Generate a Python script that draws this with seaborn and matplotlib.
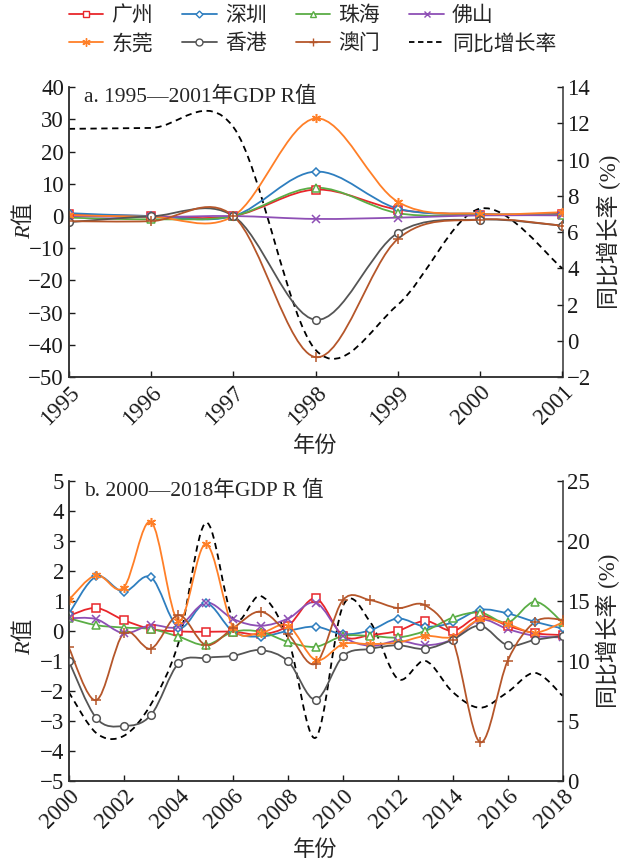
import numpy as np
import matplotlib
matplotlib.use('Agg')
import matplotlib.pyplot as plt
from matplotlib.path import Path
from matplotlib.patches import PathPatch
from matplotlib.lines import Line2D
import seaborn as sns

# ---- panel a: 1995-2001 ----
years_a = [1995, 1996, 1997, 1998, 1999, 2000, 2001]
guangzhou_a = [0.5, 0.0, 0.0, 8.2, 2.0, 0.4, 0.7]
shenzhen_a = [0.9, 0.0, 0.0, 13.8, 2.3, 0.7, 0.5]
zhuhai_a = [-0.5, -1.0, 0.0, 8.8, 0.9, 0.3, 0.4]
foshan_a = [0.0, -0.3, 0.0, -0.9, -0.5, 0.2, 0.2]
dongguan_a = [0.3, -0.2, 0.0, 30.3, 4.4, 0.7, 1.2]
hongkong_a = [-1.9, -0.1, 0.0, -32.2, -5.2, -1.1, -3.0]
macau_a = [-1.6, -1.6, 0.0, -43.8, -7.1, -1.1, -3.0]
growth_a = [11.7, 11.75, 11.8, -0.5, 2.0, 7.3, 4.0]

# ---- panel b: 2000-2018 ----
years_b = list(range(2000, 2019))
guangzhou_b = [0.50, 0.76, 0.36, 0.06, -0.02, -0.03, -0.03, -0.12, 0.17, 1.08,
               -0.17, -0.14, 0.00, 0.33, 0.00, 0.50, 0.17, -0.08, -0.14]
shenzhen_b = [0.56, 1.81, 1.30, 1.78, 0.11, 0.92, -0.03, -0.19, 0.00, 0.14,
              -0.11, 0.02, 0.41, 0.14, 0.28, 0.70, 0.58, 0.30, 0.08]
zhuhai_b = [0.42, 0.19, 0.11, 0.06, -0.19, -0.47, -0.03, -0.03, -0.37, -0.53,
            -0.17, -0.17, -0.22, 0.00, 0.44, 0.61, 0.28, 0.97, 0.28]
foshan_b = [0.42, 0.39, -0.08, 0.19, 0.14, 0.94, 0.39, 0.17, 0.41, 0.94,
            -0.17, -0.50, -0.33, -0.48, -0.28, 0.37, 0.06, -0.17, -0.22]
dongguan_b = [1.03, 1.86, 1.44, 3.63, 0.33, 2.89, 0.10, -0.06, 0.17, -0.97,
              -0.44, -0.44, -0.39, -0.17, -0.20, 0.39, 0.22, -0.06, 0.28]
hongkong_b = [-1.00, -2.90, -3.17, -2.80, -1.08, -0.90, -0.83, -0.64, -1.02, -2.29,
              -0.84, -0.60, -0.48, -0.60, -0.29, 0.17, -0.48, -0.30, -0.17]
macau_b = [-0.55, -2.31, -0.08, -0.59, 0.52, -0.47, 0.10, 0.64, -0.11, -1.09,
           1.03, 1.02, 0.76, 0.85, -0.30, -3.71, -1.00, 0.30, 0.37]
growth_b = [7.4, 4.0, 3.75, 6.4, 11.5, 21.5, 13.5, 15.4, 11.8, 3.6,
            14.6, 13.2, 8.5, 10.0, 7.4, 6.1, 7.4, 9.0, 7.1]

cities = ['广州', '深圳', '珠海', '佛山', '东莞', '香港', '澳门']
colors = ['#e8262b', '#2e7ebf', '#5aad45', '#8e4fb5', '#ff7f27', '#555555', '#b5562a']
markers = ['s', 'D', '^', 'x', (6, 2, 0), 'o', '+']
msizes = [5.5, 4, 5.5, 5.5, 6.5, 5.5, 6.5]

sns.set_theme(style='ticks')
plt.rcParams['font.family'] = ['Liberation Serif', 'Noto Sans CJK SC']
# mathtext only used for the italic R in "R值"
plt.rcParams['mathtext.fontset'] = 'custom'
plt.rcParams['mathtext.rm'] = 'Noto Sans CJK SC'
plt.rcParams['mathtext.it'] = 'Liberation Serif:italic'
plt.rcParams['axes.unicode_minus'] = True


def smooth_path(x, y):
    # Catmull-Rom style bezier through the data points (like Excel smoothed lines)
    x = np.asarray(x, float)
    y = np.asarray(y, float)
    px = np.concatenate([[x[0]], x, [x[-1]]])
    py = np.concatenate([[y[0]], y, [y[-1]]])
    verts = [(x[0], y[0])]
    codes = [Path.MOVETO]
    for i in range(len(x) - 1):
        c1 = (x[i] + (px[i + 2] - px[i]) / 6, y[i] + (py[i + 2] - py[i]) / 6)
        c2 = (x[i + 1] - (px[i + 3] - px[i + 1]) / 6, y[i + 1] - (py[i + 3] - py[i + 1]) / 6)
        verts += [c1, c2, (x[i + 1], y[i + 1])]
        codes += [Path.CURVE4] * 3
    return Path(verts, codes)


def draw_panel(ax, years, series, growth, title, ylim, yticks, ylim2, yticks2, xticks, ylab_y):
    ax2 = ax.twinx()
    ax2.add_patch(PathPatch(smooth_path(years, growth), fill=False, edgecolor='black',
                            lw=1.3, linestyle=(0, (3.5, 2.5)), zorder=1))
    for vals, c, m, ms in zip(series, colors, markers, msizes):
        ax.add_patch(PathPatch(smooth_path(years, vals), fill=False, edgecolor=c, lw=1.3))
        unfilled = m in ('x', '+') or isinstance(m, tuple)
        sns.lineplot(x=years, y=vals, ax=ax, color=c, marker=m, markersize=ms,
                     markeredgecolor=c, markerfacecolor=c if unfilled else 'white',
                     markeredgewidth=1.1, linestyle='none', legend=False)
    # bring the city lines on top of the dashed growth line
    ax.set_zorder(ax2.get_zorder() + 1)
    ax.patch.set_visible(False)

    ax.set_xlim(years[0], years[-1])
    ax.set_ylim(*ylim)
    ax.set_yticks(yticks)
    ax.set_xticks(xticks)
    ax2.set_ylim(*ylim2)
    ax2.set_yticks(yticks2)
    ax.set_xticklabels([str(t) for t in xticks], rotation=45, ha='right',
                       va='top', rotation_mode='anchor')
    for a in (ax, ax2):
        a.tick_params(direction='in', length=4, width=1, labelsize=16.5, colors='#1a1a1a')
        a.spines['top'].set_visible(False)
        for s in a.spines.values():
            s.set_color('#333333')
            s.set_linewidth(1.1)
    ax.spines['right'].set_visible(False)
    ax.set_xlabel('年份', fontsize=16, labelpad=5)
    ax.set_ylabel('$R$值', fontsize=16, family='Noto Sans CJK SC')
    # sits between the short tick labels, as in the reference
    ax.yaxis.set_label_coords(-0.068, ylab_y)
    ax2.set_ylabel('同比增长率 (%)', fontsize=16.5, labelpad=4)
    ax.text(0.03, 1.0, title, transform=ax.transAxes, va='top', ha='left', fontsize=15.5)
    return ax2


fig = plt.figure(figsize=(6.25, 8.63), dpi=100)
ax_a = fig.add_axes([0.110, 0.563, 0.790, 0.336])
ax_b = fig.add_axes([0.110, 0.095, 0.790, 0.348])

series_a = [guangzhou_a, shenzhen_a, zhuhai_a, foshan_a, dongguan_a, hongkong_a, macau_a]
series_b = [guangzhou_b, shenzhen_b, zhuhai_b, foshan_b, dongguan_b, hongkong_b, macau_b]

draw_panel(ax_a, years_a, series_a, growth_a, 'a. 1995—2001年GDP R值',
           (-50, 40), range(-50, 41, 10), (-2, 14), range(-2, 15, 2), years_a, 0.54)
draw_panel(ax_b, years_b, series_b, growth_b, 'b. 2000—2018年GDP R 值',
           (-5, 5), range(-5, 6), (0, 25), range(0, 26, 5), list(range(2000, 2019, 2)), 0.48)

handles = []
for name, c, m, ms in zip(cities, colors, markers, msizes):
    unfilled = m in ('x', '+') or isinstance(m, tuple)
    handles.append(Line2D([], [], color=c, lw=1.3, marker=m, markersize=ms - 0.5,
                          markeredgecolor=c, markerfacecolor=c if unfilled else 'white',
                          markeredgewidth=1.0, label=name))
handles.append(Line2D([], [], color='black', lw=1.3, linestyle=(0, (3, 2)), label='同比增长率'))

# legend fills column-major, so reorder to get the two rows of the reference
order = [0, 4, 1, 5, 2, 6, 3, 7]
fig.legend([handles[i] for i in order], [handles[i].get_label() for i in order],
           ncol=4, loc='upper center', bbox_to_anchor=(0.5, 1.0), frameon=False,
           prop={'family': 'Noto Sans CJK SC', 'size': 15},
           handlelength=1.65, handletextpad=0.4, columnspacing=1.4,
           labelspacing=0.3, borderpad=0.1, borderaxespad=0.1)

fig.savefig('out.png', dpi=100)
